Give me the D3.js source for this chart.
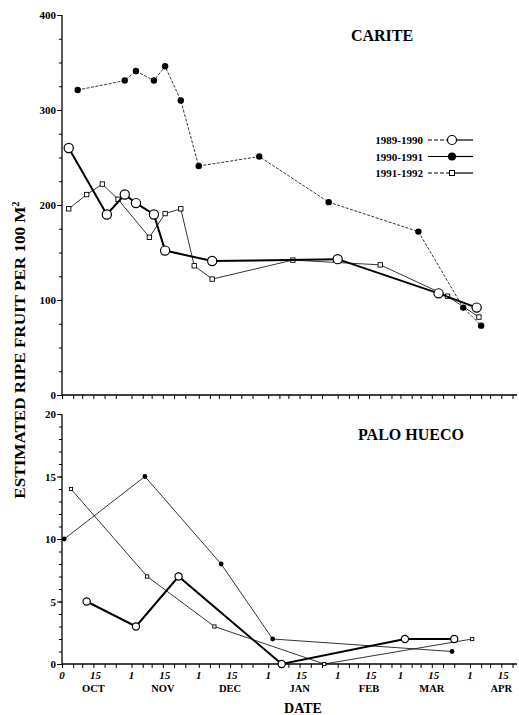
<!DOCTYPE html>
<html><head><meta charset="utf-8">
<script src="https://cdn.jsdelivr.net/npm/d3@7"></script>
<style>body{margin:0;background:#fff}svg{display:block}</style>
</head><body>
<svg id="c" width="519" height="715"></svg>
<script>
// ---------- DATA ----------
const seasons = ["1989-1990", "1990-1991", "1991-1992"];

// CARITE (ripe fruit per 100 m2)
const carite8990Dates  = ["10-04","10-21","10-29","11-03","11-11","11-16","12-07","02-01","03-18","04-04"];
const carite8990Values = [260, 190, 211, 202, 190, 152, 141, 143, 107, 92];
const carite9091Dates  = ["10-08","10-29","11-03","11-11","11-16","11-23","12-01","12-28","01-28","03-09","03-29","04-06"];
const carite9091Values = [321, 331, 341, 331, 346, 310, 241, 251, 203, 172, 92, 73];
const carite9192Dates  = ["10-04","10-12","10-19","10-26","11-09","11-16","11-23","11-29","12-07","01-12","02-20","03-22","04-05"];
const carite9192Values = [196, 211, 222, 206, 166, 191, 196, 136, 122, 142, 137, 104, 82];

// PALO HUECO
const palo8990Dates  = ["10-12","11-03","11-22","01-07","03-03","03-25"];
const palo8990Values = [5, 3, 7, 0, 2, 2];
const palo9091Dates  = ["10-02","11-07","12-11","01-03","03-24"];
const palo9091Values = [10, 15, 8, 2, 1];
const palo9192Dates  = ["10-05","11-08","12-08","01-26","04-02"];
const palo9192Values = [14, 7, 3, 0, 2];

// axis labels
const caritYTicks = [0, 100, 200, 300, 400];
const paloYTicks = [0, 5, 10, 15, 20];
const xTickDates  = ["10-01","10-15","11-01","11-15","12-01","12-15","01-01","01-15","02-01","02-15","03-01","03-15","04-01","04-15"];
const xTickLabels = ["0","15","1","15","1","15","1","15","1","15","1","15","1","15"];
const monthLabels = ["OCT","NOV","DEC","JAN","FEB","MAR","APR"];
const monthLabelDates = ["10-15","11-15","12-15","01-15","02-15","03-15","04-15"];
const minorTickDays = [1, 6, 10, 15, 20, 25];

// ---------- HELPERS ----------
const parse = s => { const [m, d] = s.split("-").map(Number); return new Date(m >= 9 ? 2000 : 2001, m - 1, d); };
const zip = (ds, vs) => ds.map((d, i) => ({date: parse(d), v: vs[i]}));

const svg = d3.select("#c");
const FONT = "'Liberation Serif','Times New Roman',serif";

const x = d3.scaleTime().domain([new Date(2000, 9, 1), new Date(2001, 3, 22)]).range([62, 517]);
const yTop = d3.scaleLinear().domain([0, 400]).range([395, 15]);
const yBot = d3.scaleLinear().domain([0, 20]).range([664, 414]);

const minorTicks = [];
for (let m of [9, 10, 11]) for (let d of minorTickDays) minorTicks.push(new Date(2000, m, d));
for (let m of [0, 1, 2, 3]) for (let d of minorTickDays) minorTicks.push(new Date(2001, m, d));
const minorX = minorTicks.filter(d => d <= x.domain()[1]);

function panel(y, yTicks, minorStep, baseY) {
  const g = svg.append("g");
  const xa = g.append("g").attr("transform", `translate(0,${baseY})`)
    .call(d3.axisBottom(x).tickValues(minorX).tickSize(4).tickFormat(""));
  xa.select(".domain").attr("stroke", "#000").attr("stroke-width", 1.3).attr("d", `M${x.range()[0]},0H${x.range()[1]}`);
  xa.selectAll(".tick line").attr("stroke", "#000").attr("stroke-width", 1);
  const [d0, d1] = y.domain();
  const minorY = d3.range(d0, d1 + 0.001, minorStep);
  const ya = g.append("g").attr("transform", `translate(62,0)`)
    .call(d3.axisLeft(y).tickValues(minorY).tickSize(3).tickFormat(""));
  ya.select(".domain").attr("stroke", "#000").attr("stroke-width", 1.3).attr("d", `M0,${y.range()[0]}V${y.range()[1]}`);
  ya.selectAll(".tick line").attr("stroke", "#000");
  const yl = g.append("g").attr("transform", `translate(62,0)`)
    .call(d3.axisLeft(y).tickValues(yTicks).tickSize(5));
  yl.select(".domain").remove();
  yl.selectAll(".tick line").attr("stroke", "#000");
  yl.selectAll(".tick text").attr("font-family", FONT).attr("font-weight", "bold")
    .attr("font-size", 11).attr("fill", "#000").attr("x", -6);
  return g;
}

function series(g, y, data, opts) {
  const line = d3.line().x(d => x(d.date)).y(d => y(d.v));
  g.append("path").datum(data).attr("d", line).attr("fill", "none")
    .attr("stroke", "#000").attr("stroke-width", opts.w)
    .attr("stroke-dasharray", opts.dash || null);
  const m = g.selectAll(null).data(data).enter();
  if (opts.marker === "open") {
    m.append("circle").attr("cx", d => x(d.date)).attr("cy", d => y(d.v)).attr("r", opts.r)
      .attr("fill", "#fff").attr("stroke", "#000").attr("stroke-width", 1.2);
  } else if (opts.marker === "filled") {
    m.append("circle").attr("cx", d => x(d.date)).attr("cy", d => y(d.v)).attr("r", opts.r).attr("fill", "#000");
  } else {
    m.append("rect").attr("x", d => x(d.date) - opts.r).attr("y", d => y(d.v) - opts.r)
      .attr("width", opts.r * 2).attr("height", opts.r * 2)
      .attr("fill", "#fff").attr("stroke", "#000").attr("stroke-width", 0.9);
  }
}

// ---------- TOP PANEL: CARITE ----------
const gt = panel(yTop, caritYTicks, 25, 395);
series(gt, yTop, zip(carite9192Dates, carite9192Values), {w: 0.8, marker: "square", r: 2.2});
series(gt, yTop, zip(carite9091Dates, carite9091Values), {w: 0.8, dash: "3,1.5", marker: "filled", r: 3.2});
series(gt, yTop, zip(carite8990Dates, carite8990Values), {w: 2, marker: "open", r: 4.6});

svg.append("text").attr("x", 382).attr("y", 41).attr("text-anchor", "middle")
  .attr("font-family", FONT).attr("font-weight", "bold").attr("font-size", 16).text("CARITE");

// legend
const legMarkers = ["open", "filled", "square"];
const legDash = [true, false, true];
seasons.forEach((s, i) => {
  const cy = 140 + i * 16.5;
  svg.append("text").attr("x", 423).attr("y", cy + 4).attr("text-anchor", "end")
    .attr("font-family", FONT).attr("font-weight", "bold").attr("font-size", 11).text(s);
  svg.append("line").attr("x1", 428).attr("x2", 452).attr("y1", cy).attr("y2", cy)
    .attr("stroke", "#000").attr("stroke-width", 1).attr("stroke-dasharray", legDash[i] ? "4,2" : null);
  svg.append("line").attr("x1", 452).attr("x2", 473).attr("y1", cy).attr("y2", cy)
    .attr("stroke", "#000").attr("stroke-width", 1.2);
  if (legMarkers[i] === "open") svg.append("circle").attr("cx", 452).attr("cy", cy).attr("r", 4.5)
    .attr("fill", "#fff").attr("stroke", "#000").attr("stroke-width", 1.2);
  else if (legMarkers[i] === "filled") svg.append("circle").attr("cx", 452).attr("cy", cy).attr("r", 4).attr("fill", "#000");
  else svg.append("rect").attr("x", 449.5).attr("y", cy - 2.5).attr("width", 5).attr("height", 5)
    .attr("fill", "#fff").attr("stroke", "#000").attr("stroke-width", 1);
});

// ---------- BOTTOM PANEL: PALO HUECO ----------
const gb = panel(yBot, paloYTicks, 1, 664);
series(gb, yBot, zip(palo9192Dates, palo9192Values), {w: 0.8, marker: "square", r: 1.6});
series(gb, yBot, zip(palo9091Dates, palo9091Values), {w: 0.8, marker: "filled", r: 2.4});
series(gb, yBot, zip(palo8990Dates, palo8990Values), {w: 2, marker: "open", r: 3.6});

svg.append("text").attr("x", 411).attr("y", 440).attr("text-anchor", "middle")
  .attr("font-family", FONT).attr("font-weight", "bold").attr("font-size", 16).text("PALO HUECO");

// x tick labels
svg.append("g").selectAll("text").data(xTickDates).enter().append("text")
  .attr("x", (d, i) => x(parse(d)) + (xTickLabels[i] === "15" ? 2 : 0)).attr("y", 679)
  .attr("text-anchor", "middle").attr("font-family", FONT).attr("font-weight", "bold")
  .attr("font-style", "italic").attr("font-size", 11).text((d, i) => xTickLabels[i]);
svg.append("g").selectAll("text").data(monthLabelDates).enter().append("text")
  .attr("x", d => x(parse(d))).attr("y", 692)
  .attr("text-anchor", "middle").attr("font-family", FONT).attr("font-weight", "bold")
  .attr("font-size", 10.5).text((d, i) => monthLabels[i]);

svg.append("text").attr("x", 303).attr("y", 713).attr("text-anchor", "middle")
  .attr("font-family", FONT).attr("font-weight", "bold").attr("font-size", 14).text("DATE");

// y title
const yt = svg.append("text").attr("transform", "translate(25,350) rotate(-90)").attr("text-anchor", "middle")
  .attr("font-family", FONT).attr("font-weight", "bold").attr("font-size", 15.5);
yt.append("tspan").attr("textLength", 292).attr("lengthAdjust", "spacingAndGlyphs").text("ESTIMATED RIPE FRUIT PER 100 M");
yt.append("tspan").attr("dy", -6).attr("font-size", 10.5).text("2");
</script>
</body></html>
